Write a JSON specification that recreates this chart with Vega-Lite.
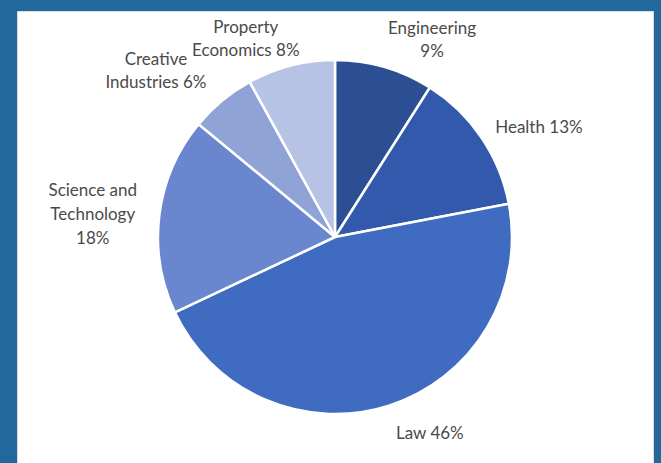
{
  "$schema": "https://vega.github.io/schema/vega-lite/v6.json",
  "width": 636,
  "height": 452,
  "autosize": {"type": "none"},
  "padding": {"left": 17, "top": 11, "right": 8, "bottom": 0},
  "background": "#21689c",
  "view": {"fill": "white", "stroke": "#dddddd"},
  "data": {
    "values": [
      {"subject": "Engineering", "pct": 9, "label": "Engineering\n9%", "order": 1},
      {"subject": "Health", "pct": 13, "label": "Health 13%", "order": 2},
      {"subject": "Law", "pct": 46, "label": "Law 46%", "order": 3},
      {"subject": "Science and Technology", "pct": 18, "label": "Science and\nTechnology\n18%", "order": 4},
      {"subject": "Creative Industries", "pct": 6, "label": "Creative\nIndustries 6%", "order": 5},
      {"subject": "Property Economics", "pct": 8, "label": "Property\nEconomics 8%", "order": 6}
    ]
  },
  "encoding": {
    "theta": {"field": "pct", "type": "quantitative", "stack": true},
    "order": {"field": "order", "type": "quantitative"}
  },
  "layer": [
    {
      "mark": {"type": "arc", "outerRadius": 177, "stroke": "white", "strokeWidth": 2.5},
      "encoding": {
        "color": {
          "field": "subject",
          "type": "nominal",
          "legend": null,
          "scale": {
            "domain": ["Engineering", "Health", "Law", "Science and Technology", "Creative Industries", "Property Economics"],
            "range": ["#2c4f94", "#3259ab", "#3f6bc0", "#6a86cf", "#90a3d7", "#b7c3e5"]
          }
        }
      }
    },
    {
      "mark": {"type": "text", "radius": 226, "dx": 34, "dy": 9, "lineBreak": "\n", "font": "Lato", "fontSize": 17, "color": "#4a4a4a", "lineHeight": 23},
      "encoding": {"text": {"condition": {"test": "datum.subject == 'Engineering'", "field": "label"}, "value": ""}}
    },
    {
      "mark": {"type": "text", "radius": 226, "dx": 17, "dy": 18, "lineBreak": "\n", "font": "Lato", "fontSize": 17, "color": "#4a4a4a", "lineHeight": 23},
      "encoding": {"text": {"condition": {"test": "datum.subject == 'Health'", "field": "label"}, "value": ""}}
    },
    {
      "mark": {"type": "text", "radius": 226, "dx": 25, "dy": -18, "lineBreak": "\n", "font": "Lato", "fontSize": 17, "color": "#4a4a4a", "lineHeight": 23},
      "encoding": {"text": {"condition": {"test": "datum.subject == 'Law'", "field": "label"}, "value": ""}}
    },
    {
      "mark": {"type": "text", "radius": 226, "dx": -18, "dy": -18, "lineBreak": "\n", "font": "Lato", "fontSize": 17, "color": "#4a4a4a", "lineHeight": 24},
      "encoding": {"text": {"condition": {"test": "datum.subject == 'Science and Technology'", "field": "label"}, "value": ""}}
    },
    {
      "mark": {"type": "text", "radius": 226, "dx": -35, "dy": -3, "lineBreak": "\n", "font": "Lato", "fontSize": 17, "color": "#4a4a4a", "lineHeight": 23},
      "encoding": {"text": {"condition": {"test": "datum.subject == 'Creative Industries'", "field": "label"}, "value": ""}}
    },
    {
      "mark": {"type": "text", "radius": 226, "dx": -33, "dy": 10, "lineBreak": "\n", "font": "Lato", "fontSize": 17, "color": "#4a4a4a", "lineHeight": 23},
      "encoding": {"text": {"condition": {"test": "datum.subject == 'Property Economics'", "field": "label"}, "value": ""}}
    }
  ]
}
